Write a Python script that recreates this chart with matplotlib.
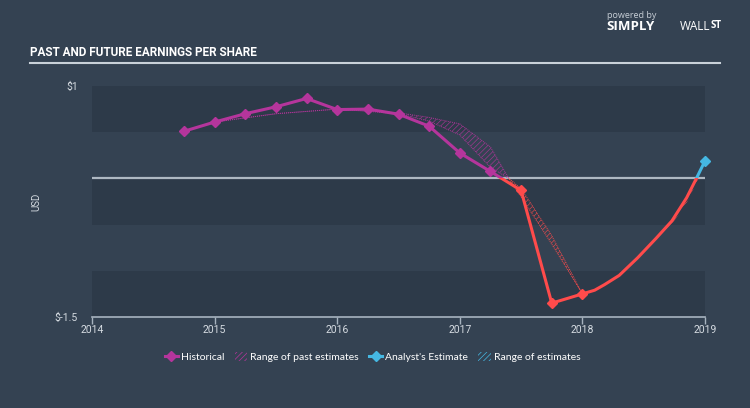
import numpy as np
import matplotlib
matplotlib.use('Agg')
import matplotlib.pyplot as plt
from matplotlib.patches import Rectangle, Patch
from matplotlib.lines import Line2D

# historical EPS (quarterly)
hist_x = [2014.75, 2015.0, 2015.25, 2015.5, 2015.75, 2016.0, 2016.25, 2016.5,
          2016.75, 2017.0, 2017.25, 2017.5, 2017.75, 2018.0]
hist_eps = [0.51, 0.61, 0.70, 0.775, 0.865, 0.745, 0.75, 0.695,
            0.565, 0.275, 0.075, -0.13, -1.35, -1.25]

# range of past estimates
past_x = [2015.0, 2015.5, 2016.0, 2016.5, 2016.75, 2017.0, 2017.25, 2017.4,
          2017.5, 2017.75, 2018.0]
past_hi = [0.61, 0.70, 0.75, 0.71, 0.66, 0.59, 0.34, 0.0, -0.11, -0.62, -1.25]
past_lo = [0.61, 0.70, 0.75, 0.70, 0.62, 0.47, 0.12, 0.0, -0.20, -0.71, -1.25]

# analyst estimate
fc_x = [2018.0, 2018.1, 2018.18, 2018.3, 2018.45, 2018.6, 2018.73, 2018.85, 2018.93, 2019.0]
fc_eps = [-1.25, -1.21, -1.15, -1.05, -0.86, -0.65, -0.46, -0.21, 0.0, 0.19]
fc_lo = [-1.25, -1.21, -1.15, -1.05, -0.87, -0.67, -0.50, -0.27, -0.05, 0.15]

year_ticks = [2014, 2015, 2016, 2017, 2018, 2019]

BG = '#344252'
BAND = '#2d3a49'
MAG = '#b5359c'
RED = '#ff4b4b'
BLUE = '#45b8e3'
TXT = '#d5dbe1'

plt.rcParams['font.family'] = ['Roboto', 'DejaVu Sans']
plt.rcParams['hatch.linewidth'] = 0.5

fig = plt.figure(figsize=(7.5, 4.08), dpi=100, facecolor=BG)
ax = fig.add_axes([92/750, 1-317/408, 613/750, 231/408])
ax.set_facecolor(BG)
ax.set_xlim(2014, 2019)
ax.set_ylim(-1.5, 1)

for lo, hi in [(0.5, 1.0), (-0.5, 0.0), (-1.5, -1.0)]:
    ax.axhspan(lo, hi, color=BAND, lw=0, zorder=0)
ax.axhline(0, color='#aeb8c2', lw=1.6, zorder=1)


def clip_above(art):
    art.set_clip_path(Rectangle((2013, 0), 10, 5, transform=ax.transData))


def clip_below(art):
    art.set_clip_path(Rectangle((2013, -5), 10, 5, transform=ax.transData))


# past estimates band
for col, clip in [(MAG, clip_above), (RED, clip_below)]:
    f = ax.fill_between(past_x, past_lo, past_hi, facecolor='none', edgecolor=col,
                        hatch='//////', lw=0, alpha=0.8, zorder=2)
    clip(f)
    for yy in (past_hi, past_lo):
        ln, = ax.plot(past_x, yy, color=col, lw=0.7, ls=(0, (1, 1)), alpha=0.9, zorder=2)
        clip(ln)

# analyst range
f = ax.fill_between(fc_x, fc_lo, fc_eps, facecolor='none', edgecolor=RED,
                    hatch='//////', lw=0, alpha=0.8, zorder=2)
clip_below(f)

# forecast line
ln, = ax.plot(fc_x, fc_eps, color=RED, lw=2.2, zorder=3)
clip_below(ln)
ln, = ax.plot(fc_x, fc_eps, color=BLUE, lw=2.2, marker='D', ms=5.5,
              markevery=[len(fc_x) - 1], zorder=3)
ln.set_clip_path(Rectangle((2013, 0), 10, 5, transform=ax.transData))

# historical line
ln, = ax.plot(hist_x, hist_eps, color=MAG, lw=2.2, marker='D', ms=5, zorder=4)
clip_above(ln)
ln, = ax.plot(hist_x, hist_eps, color=RED, lw=2.2, marker='D', ms=5, zorder=4)
clip_below(ln)

# axes styling
for s in ['top', 'right', 'left']:
    ax.spines[s].set_visible(False)
ax.spines['bottom'].set_color('#a7b3bf')
ax.spines['bottom'].set_linewidth(1.2)
ax.set_xticks(year_ticks)
ax.set_xticklabels([str(y) for y in year_ticks])
ax.tick_params(axis='x', colors='#a7b3bf', length=5, width=1, labelsize=7.5,
               labelcolor=TXT, pad=1)
ax.set_yticks([1, -1.5])
ax.set_yticklabels(['$1', '$-1.5'])
ax.tick_params(axis='y', length=0, labelsize=7.5, labelcolor=TXT, pad=10)
ax.set_ylabel('USD', color=TXT, fontsize=7, labelpad=10)

# title and rule
fig.text(30/750, 1-52/408, 'PAST AND FUTURE EARNINGS PER SHARE', color='white',
         fontsize=8.5, fontweight='bold', va='center', ha='left')
fig.add_artist(Line2D([30/750, 720/750], [1-63/408, 1-63/408], color='#c9d1d9', lw=1.5))

# logo
fig.text(607/750, 1-15/408, 'powered by', color='#c7ced6', fontsize=6.5,
         family=['Open Sans', 'DejaVu Sans'], va='center')
fig.text(606/750, 1-27/408, 'SIMPLY', color='white', fontsize=9.5, fontweight='bold',
         family=['Open Sans', 'DejaVu Sans'], va='center')
fig.text(680/750, 1-27/408, 'WALL', color='white', fontsize=8.5,
         family=['Open Sans', 'DejaVu Sans'], va='center')
fig.text(711/750, 1-26/408, 'ST', color='white', fontsize=7, fontweight='bold',
         family=['Open Sans', 'DejaVu Sans'], va='center')

# legend
handles = [
    Line2D([], [], color=MAG, lw=2.2, marker='D', ms=5),
    Patch(facecolor='none', edgecolor=MAG, hatch='//////', lw=0),
    Line2D([], [], color=BLUE, lw=2.2, marker='D', ms=5),
    Patch(facecolor='none', edgecolor=BLUE, hatch='//////', lw=0),
]
labels = ['Historical', 'Range of past estimates', "Analyst's Estimate", 'Range of estimates']
leg = fig.legend(handles, labels, loc='center', bbox_to_anchor=(0.497, 1-357/408), ncol=4,
                 frameon=False, labelcolor='white', handlelength=1.2,
                 handleheight=0.9, handletextpad=0.3, columnspacing=1.0,
                 prop={'family': ['Lato', 'DejaVu Sans'], 'size': 7.5})

fig.savefig('out.png', dpi=100, facecolor=BG)
